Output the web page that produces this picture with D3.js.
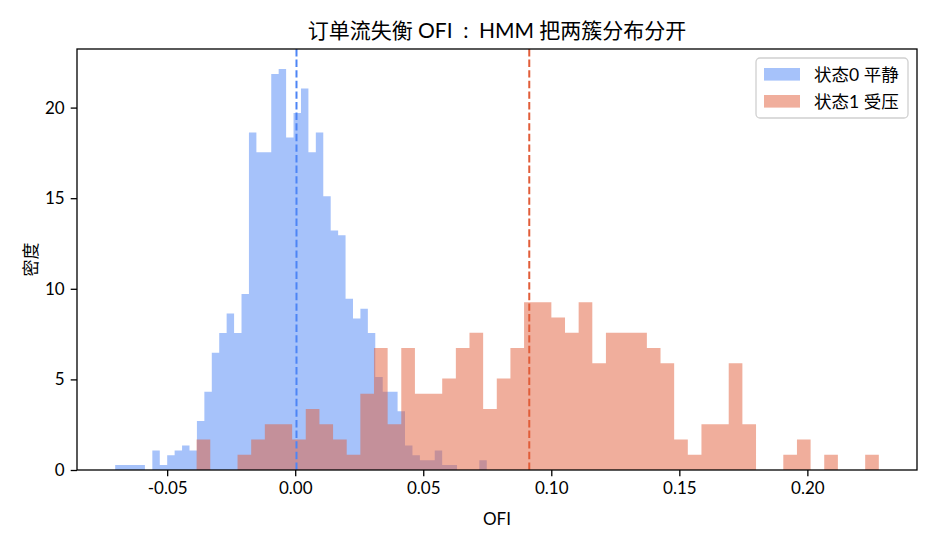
<!DOCTYPE html>
<html>
<head>
<meta charset="utf-8">
<script src="https://cdn.jsdelivr.net/npm/d3@7"></script>
<style>
  body { margin: 0; background: #fff; }
  text { font-family: Lato, "Noto Sans CJK SC", sans-serif; fill: #000; }
</style>
</head>
<body>
<svg id="chart" width="936" height="546"></svg>
<script>
// state 0 (calm) histogram: 50 bins over this range, counts per bin
const calmRange = [-0.0703, 0.0748];
const calmCounts = [
  1, 1, 1, 1, 0, 4, 1, 3, 4, 5,
  4, 10, 16, 24, 28, 32, 28, 36, 69, 65,
  65, 81, 82, 68, 73, 78, 65, 69, 56, 49,
  48, 35, 31, 33, 28, 19, 16, 16, 12, 5,
  3, 2, 2, 4, 1, 1, 0, 0, 0, 2
];
// state 1 (stressed) histogram
const stressRange = [-0.0385, 0.2279];
const stressCounts = [
  2, 0, 0, 1, 2, 3, 3, 2, 4, 3,
  2, 1, 5, 8, 3, 8, 5, 5, 6, 8,
  9, 4, 6, 8, 11, 11, 10, 9, 11, 7,
  9, 9, 9, 8, 7, 2, 1, 3, 3, 7,
  3, 0, 0, 1, 2, 0, 1, 0, 0, 1
];
const calmMean = 0.0005;
const stressMean = 0.0914;

const seriesNames = ["状态0 平静", "状态1 受压"];
const seriesColors = ["#4d85f5", "#e15d39"];
const xTicks = [-0.05, 0.0, 0.05, 0.10, 0.15, 0.20];
const yTicks = [0, 5, 10, 15, 20];

const margin = { top: 49, right: 19, bottom: 76, left: 77 };
const width = 936 - margin.left - margin.right;
const height = 546 - margin.top - margin.bottom;

// turn counts into density bins like hist(density=True)
function toBins(range, counts) {
  let n = d3.sum(counts);
  let edge = d3.scaleLinear().domain([0, counts.length]).range(range);
  let w = (range[1] - range[0]) / counts.length;
  return counts.map((c, i) => ({ x0: edge(i), x1: edge(i + 1), value: c / (n * w) }));
}

const series = [toBins(calmRange, calmCounts), toBins(stressRange, stressCounts)];
const means = [calmMean, stressMean];

let lo = Math.min(calmRange[0], stressRange[0]),
  hi = Math.max(calmRange[1], stressRange[1]),
  pad = (hi - lo) * 0.05;
let x = d3.scaleLinear().domain([lo - pad, hi + pad]).range([0, width]);
let yMax = d3.max(series, (s) => d3.max(s, (d) => d.value));
let y = d3.scaleLinear().domain([0, yMax * 1.05]).range([height, 0]);

let svg = d3
  .select("#chart")
  .append("g")
  .attr("transform", "translate(" + margin.left + "," + margin.top + ")");

// bars: one step-shaped area per series so neighbouring bins leave no seams
let area = d3
  .area()
  .curve(d3.curveStepAfter)
  .x((d) => x(d[0]))
  .y0(height)
  .y1((d) => y(d[1]));

series.forEach((bins, k) => {
  let pts = bins.map((d) => [d.x0, d.value]);
  let last = bins[bins.length - 1];
  pts.push([last.x1, last.value]);
  pts.unshift([bins[0].x0, 0]);
  pts.push([last.x1, 0]);
  svg
    .append("path")
    .datum(pts)
    .attr("d", area)
    .attr("fill", seriesColors[k])
    .attr("fill-opacity", 0.5);
});

// mean lines
svg
  .selectAll(".mean")
  .data(means)
  .enter()
  .append("line")
  .attr("class", "mean")
  .attr("x1", (d) => x(d))
  .attr("x2", (d) => x(d))
  .attr("y1", 0)
  .attr("y2", height)
  .attr("stroke", (d, i) => seriesColors[i])
  .attr("stroke-width", 2)
  .attr("stroke-dasharray", "7.4,3.2");

// axes
let fmt = (d) => d3.format(".2f")(d).replace("−", "-");
let xAxis = svg
  .append("g")
  .attr("transform", "translate(0," + height + ")")
  .call(d3.axisBottom(x).tickValues(xTicks).tickFormat(fmt).tickSize(6.3).tickPadding(6));
let yAxis = svg
  .append("g")
  .call(d3.axisLeft(y).tickValues(yTicks).tickFormat(d3.format("d")).tickSize(6.3).tickPadding(6));
[xAxis, yAxis].forEach((a) => {
  a.select(".domain").remove();
  a.selectAll("line").attr("stroke", "#000").attr("stroke-width", 1.3);
  a.selectAll("text").attr("font-size", "17px").attr("fill", "#000").style("font-family", "Lato, sans-serif");
});

svg
  .append("rect")
  .attr("width", width)
  .attr("height", height)
  .attr("fill", "none")
  .attr("stroke", "#000")
  .attr("stroke-width", 1.3);

// titles
svg
  .append("text")
  .attr("x", width / 2)
  .attr("y", -11)
  .attr("text-anchor", "middle")
  .attr("font-size", "21px")
  .text("订单流失衡 OFI\u2002:\u2002HMM 把两簇分布分开");

svg
  .append("text")
  .attr("x", width / 2)
  .attr("y", height + 55)
  .attr("text-anchor", "middle")
  .attr("font-size", "17px")
  .text("OFI");

svg
  .append("text")
  .attr("transform", "translate(" + -40 + "," + height / 2 + ") rotate(-90)")
  .attr("text-anchor", "middle")
  .attr("font-size", "17px")
  .text("密度");

// legend
let legend = svg.append("g").attr("transform", "translate(" + (width - 161) + ",9)");
legend
  .append("rect")
  .attr("width", 152)
  .attr("height", 60)
  .attr("rx", 4)
  .attr("fill", "#fff")
  .attr("fill-opacity", 0.8)
  .attr("stroke", "#d0d0d0")
  .attr("stroke-width", 1.3);
let item = legend
  .selectAll(".item")
  .data(seriesNames)
  .enter()
  .append("g")
  .attr("class", "item")
  .attr("transform", (d, i) => "translate(8," + (10 + i * 27) + ")");
item
  .append("rect")
  .attr("width", 36)
  .attr("height", 12.6)
  .attr("fill", (d, i) => seriesColors[i])
  .attr("fill-opacity", 0.5);
item
  .append("text")
  .attr("x", 50)
  .attr("y", 12.5)
  .attr("font-size", "17.5px")
  .text((d) => d);
</script>
</body>
</html>
